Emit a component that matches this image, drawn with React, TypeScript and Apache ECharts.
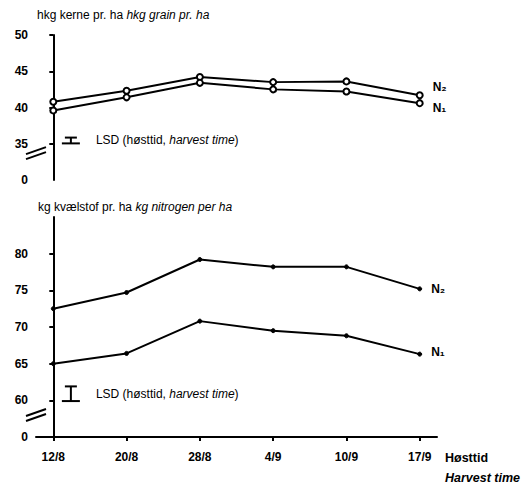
import React, { useEffect, useRef } from "react";
import * as echarts from "echarts";

const categories = ["12/8", "20/8", "28/8", "4/9", "10/9", "17/9"];
const grainN1 = [39.6, 41.4, 43.4, 42.5, 42.2, 40.6];
const grainN2 = [40.8, 42.3, 44.2, 43.5, 43.6, 41.7];
const nitrogenN1 = [65.0, 66.4, 70.8, 69.5, 68.8, 66.3];
const nitrogenN2 = [72.5, 74.7, 79.2, 78.2, 78.2, 75.2];
const grainTicks = [35, 40, 45, 50];
const nitrogenTicks = [60, 65, 70, 75, 80];
const grainLSD = 0.8;
const nitrogenLSD = 2.0;

const FONT = "'Liberation Sans', Arial, sans-serif";
const X_MIN = -0.236;
const X_MAX = 5.236;

function pairs(vals: number[]) {
  return vals.map((v, i) => [i, v]);
}

function withEndLabel(vals: number[], text: string, offsetY: number, distance: number) {
  const d: any[] = pairs(vals);
  const last = d.length - 1;
  d[last] = {
    value: d[last],
    label: {
      show: true,
      position: "right",
      distance,
      offset: [0, offsetY],
      formatter: text,
      color: "#000",
      fontFamily: FONT,
      fontWeight: "bold",
      fontSize: 12,
    },
  };
  return d;
}

function lsdRenderer(lsd: number) {
  return (params: any, api: any) => {
    const c = api.coord([api.value(0), api.value(1)]);
    const h = api.size([0, lsd])[1];
    const top = c[1] - h / 2;
    const bot = c[1] + h / 2;
    const st = { stroke: "#000", lineWidth: 2 };
    return {
      type: "group",
      children: [
        { type: "line", shape: { x1: c[0], y1: top, x2: c[0], y2: bot }, style: st },
        { type: "line", shape: { x1: c[0] - 6, y1: top, x2: c[0] + 6, y2: top }, style: st },
        { type: "line", shape: { x1: c[0] - 9, y1: bot, x2: c[0] + 9, y2: bot }, style: st },
        {
          type: "text",
          x: c[0] + 25,
          y: c[1],
          style: {
            text: "{a|LSD (høsttid, }{b|harvest time}{a|)}",
            verticalAlign: "middle",
            align: "left",
            rich: {
              a: { fontFamily: FONT, fontSize: 12, fill: "#000" },
              b: { fontFamily: FONT, fontSize: 12, fontStyle: "italic", fill: "#000" },
            },
          },
        },
      ],
    };
  };
}

function breakRenderer(params: any, api: any) {
  const c = api.coord([api.value(0), api.value(1)]);
  const x = c[0];
  const y = c[1];
  const st = { stroke: "#000", lineWidth: 2 };
  return {
    type: "group",
    children: [
      {
        type: "polygon",
        shape: {
          points: [
            [x - 10, y + 6],
            [x + 10, y - 1],
            [x + 10, y - 6],
            [x - 10, y + 1],
          ],
        },
        style: { fill: "#fff" },
      },
      { type: "line", shape: { x1: x - 10, y1: y + 6, x2: x + 10, y2: y - 1 }, style: st },
      { type: "line", shape: { x1: x - 10, y1: y + 1, x2: x + 10, y2: y - 6 }, style: st },
    ],
  };
}

export default function App() {
  const ref = useRef<HTMLDivElement>(null);

  useEffect(() => {
    if (!ref.current) return;
    const chart = echarts.init(ref.current, undefined, { renderer: "svg" });

    const yAxisCommon = {
      type: "value",
      splitLine: { show: false },
      axisLine: { show: true, lineStyle: { color: "#000", width: 2 } },
      axisTick: { show: true, length: 4, lineStyle: { color: "#000", width: 2 } },
      axisLabel: { color: "#000", fontFamily: FONT, fontWeight: "bold", fontSize: 12, margin: 8 },
    };

    const lineCommon = {
      type: "line",
      color: "#000",
      lineStyle: { color: "#000", width: 2 },
      itemStyle: { color: "#000", borderColor: "#000" },
      z: 3,
    };

    chart.setOption({
      animation: false,
      backgroundColor: "#fff",
      grid: [
        { left: 36, top: 35, width: 401, height: 145 },
        { left: 36, top: 217, width: 401, height: 220 },
      ],
      xAxis: [
        { type: "value", gridIndex: 0, min: X_MIN, max: X_MAX, show: false },
        {
          type: "value",
          gridIndex: 1,
          min: X_MIN,
          max: X_MAX,
          splitLine: { show: false },
          axisLine: { show: true, lineStyle: { color: "#000", width: 2 } },
          axisTick: {
            show: true,
            length: 4,
            customValues: categories.map((_, i) => i),
            lineStyle: { color: "#000", width: 2 },
          },
          axisLabel: {
            customValues: categories.map((_, i) => i),
            formatter: (v: number) => categories[Math.round(v)] ?? "",
            color: "#000",
            fontFamily: FONT,
            fontWeight: "bold",
            fontSize: 12,
            margin: 14,
          },
        },
      ],
      yAxis: [
        {
          ...yAxisCommon,
          gridIndex: 0,
          min: 30,
          max: 50,
          axisTick: { ...yAxisCommon.axisTick, customValues: grainTicks },
          axisLabel: {
            ...yAxisCommon.axisLabel,
            customValues: [30, ...grainTicks],
            formatter: (v: number) => (v === 30 ? "0" : String(v)),
          },
        },
        {
          ...yAxisCommon,
          gridIndex: 1,
          min: 55,
          max: 85,
          axisTick: { ...yAxisCommon.axisTick, customValues: nitrogenTicks },
          axisLabel: {
            ...yAxisCommon.axisLabel,
            customValues: [55, ...nitrogenTicks],
            formatter: (v: number) => (v === 55 ? "0" : String(v)),
          },
        },
      ],
      graphic: [
        {
          type: "text",
          left: 37,
          top: 9,
          style: {
            text: "{a|hkg kerne pr. ha }{b|hkg grain pr. ha}",
            rich: {
              a: { fontFamily: FONT, fontSize: 12, fill: "#000" },
              b: { fontFamily: FONT, fontSize: 12, fontStyle: "italic", fill: "#000" },
            },
          },
        },
        {
          type: "text",
          left: 38,
          top: 201,
          style: {
            text: "{a|kg kvælstof pr. ha }{b|kg nitrogen per ha}",
            rich: {
              a: { fontFamily: FONT, fontSize: 12, fill: "#000" },
              b: { fontFamily: FONT, fontSize: 12, fontStyle: "italic", fill: "#000" },
            },
          },
        },
        {
          type: "text",
          left: 445,
          top: 451,
          style: { text: "Høsttid", fontFamily: FONT, fontSize: 12.5, fontWeight: "bold", fill: "#000" },
        },
        {
          type: "text",
          left: 445,
          top: 471,
          style: {
            text: "Harvest time",
            fontFamily: FONT,
            fontSize: 12.5,
            fontWeight: "bold",
            fontStyle: "italic",
            fill: "#000",
          },
        },
      ],
      series: [
        {
          ...lineCommon,
          name: "grain N2",
          xAxisIndex: 0,
          yAxisIndex: 0,
          symbol: "emptyCircle",
          symbolSize: 6,
          itemStyle: { color: "#000", borderColor: "#000", borderWidth: 2 },
          data: withEndLabel(grainN2, "N₂", -8, 9),
        },
        {
          ...lineCommon,
          name: "grain N1",
          xAxisIndex: 0,
          yAxisIndex: 0,
          symbol: "emptyCircle",
          symbolSize: 6,
          itemStyle: { color: "#000", borderColor: "#000", borderWidth: 2 },
          data: withEndLabel(grainN1, "N₁", 5, 9),
        },
        {
          ...lineCommon,
          name: "nitrogen N2",
          xAxisIndex: 1,
          yAxisIndex: 1,
          symbol: "circle",
          symbolSize: 4,
          data: withEndLabel(nitrogenN2, "N₂", 0, 9),
        },
        {
          ...lineCommon,
          name: "nitrogen N1",
          xAxisIndex: 1,
          yAxisIndex: 1,
          symbol: "circle",
          symbolSize: 4,
          data: withEndLabel(nitrogenN1, "N₁", -2, 9),
        },
        {
          type: "custom",
          xAxisIndex: 0,
          yAxisIndex: 0,
          clip: false,
          renderItem: lsdRenderer(grainLSD),
          data: [[0.24, 35.45]],
        },
        {
          type: "custom",
          xAxisIndex: 1,
          yAxisIndex: 1,
          clip: false,
          renderItem: lsdRenderer(nitrogenLSD),
          data: [[0.24, 60.9]],
        },
        {
          type: "custom",
          xAxisIndex: 0,
          yAxisIndex: 0,
          clip: false,
          z: 5,
          renderItem: breakRenderer,
          data: [[X_MIN, 33.7]],
        },
        {
          type: "custom",
          xAxisIndex: 1,
          yAxisIndex: 1,
          clip: false,
          z: 5,
          renderItem: breakRenderer,
          data: [[X_MIN, 58.0]],
        },
      ],
    });

    return () => chart.dispose();
  }, []);

  return (
    <div
      ref={ref}
      style={{ position: "fixed", left: 0, top: 0, width: 528, height: 483, background: "#fff" }}
    />
  );
}
